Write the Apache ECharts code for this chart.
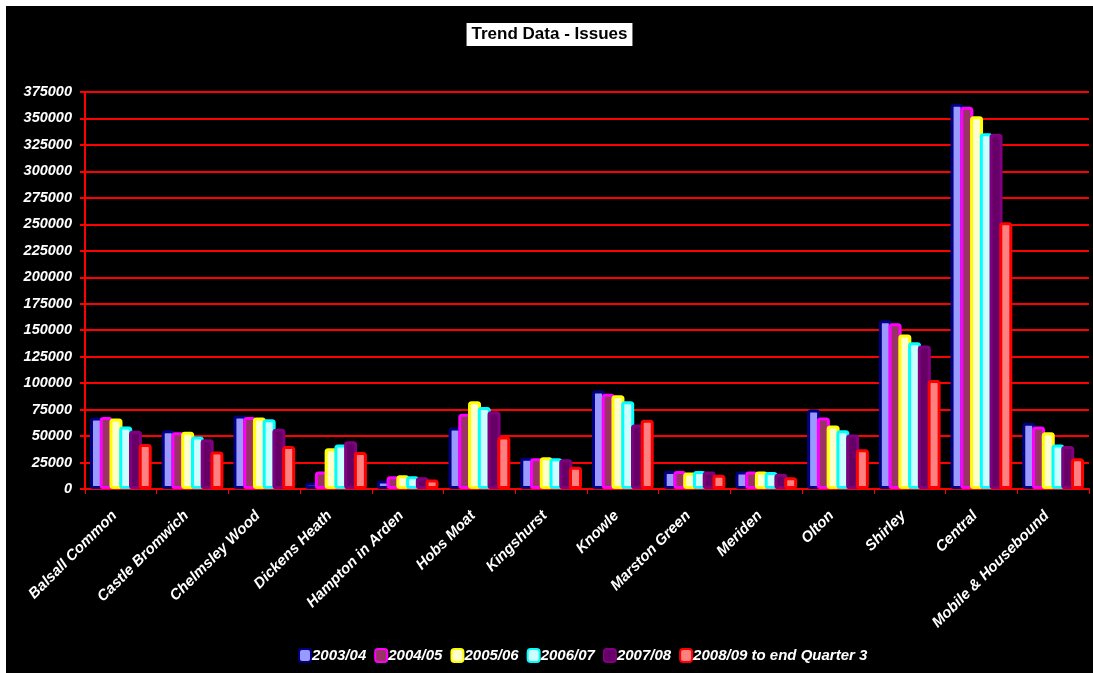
<!DOCTYPE html>
<html>
<head>
<meta charset="utf-8">
<script src="https://cdn.jsdelivr.net/npm/echarts@6/dist/echarts.min.js"></script>
<style>
html, body { margin: 0; padding: 0; background: #fff; }
#chart {
  position: absolute;
  left: 6px;
  top: 6px;
  width: 1087px;
  height: 667px;
  background: #000;
}
</style>
</head>
<body>
<div id="chart"></div>
<script>
const categories = ['Balsall Common', 'Castle Bromwich', 'Chelmsley Wood', 'Dickens Heath', 'Hampton in Arden',
  'Hobs Moat', 'Kingshurst', 'Knowle', 'Marston Green', 'Meriden', 'Olton', 'Shirley', 'Central', 'Mobile & Housebound']

const yearNames = ['2003/04', '2004/05', '2005/06', '2006/07', '2007/08', '2008/09 to end Quarter 3']

const y2003 = [67500, 55500, 69500, 6000, 8000, 58000, 29500, 93000, 17000, 16500, 75000, 159500, 364000, 62500]
const y2004 = [68000, 53500, 68000, 16500, 12000, 71000, 29000, 90000, 17000, 16500, 67500, 156500, 361000, 59000]
const y2005 = [66500, 54000, 67500, 38500, 13000, 83000, 30000, 88500, 15500, 16500, 60000, 146000, 352000, 53500]
const y2006 = [59000, 49500, 66000, 42000, 12000, 77500, 29000, 83000, 17000, 16000, 55500, 138500, 336000, 42000]
const y2007 = [55000, 47000, 57000, 45000, 11000, 73500, 28000, 61000, 16500, 14500, 51500, 135500, 335500, 40500]
const y2008 = [42500, 35500, 40500, 35000, 9000, 49500, 21000, 65500, 13500, 11000, 37500, 103000, 252000, 29000]

const yTicks = [0, 25000, 50000, 75000, 100000, 125000, 150000, 175000, 200000, 225000, 250000, 275000, 300000, 325000, 350000, 375000]

// outline colour and inner fill for each year
const borderColors = ['#000080', '#ff00ff', '#ffff00', '#00ffff', '#800080', '#ff0000']
const fillColors = ['#9999ff', '#993366', '#ffffcc', '#ccffff', '#660066', '#ff8080']

const allSeries = [y2003, y2004, y2005, y2006, y2007, y2008]

const chart = echarts.init(document.getElementById('chart'))

const series = allSeries.map(function (vals, i) {
  return {
    name: yearNames[i],
    type: 'bar',
    data: vals,
    barWidth: 13,
    barGap: '-25%',
    itemStyle: {
      color: fillColors[i],
      borderColor: borderColors[i],
      borderWidth: 3,
      borderRadius: 2
    },
    emphasis: { disabled: true }
  }
})

const options = {
  backgroundColor: '#000',
  animation: false,
  title: {
    text: 'Trend Data - Issues',
    left: 'center',
    top: 17,
    padding: [3, 5, 3, 5],
    backgroundColor: '#fff',
    textStyle: {
      color: '#000',
      fontFamily: 'Arial',
      fontWeight: 'bold',
      fontSize: 17
    }
  },
  legend: {
    data: yearNames,
    left: 287,
    bottom: 5,
    itemWidth: 12,
    itemHeight: 13,
    itemGap: 8,
    textStyle: {
      color: '#fff',
      fontFamily: 'Arial',
      fontWeight: 'bold',
      fontStyle: 'italic',
      fontSize: 15,
      padding: [0, 0, 0, -4]
    }
  },
  grid: {
    left: 79,
    right: 4,
    top: 86,
    bottom: 184
  },
  xAxis: {
    type: 'category',
    data: categories,
    axisLine: { lineStyle: { color: '#ff0000', width: 2 } },
    axisTick: { show: true, length: 5, lineStyle: { color: '#ff0000' } },
    axisLabel: {
      interval: 0,
      rotate: 45,
      margin: 18,
      padding: [0, 9, 0, 0],
      color: '#fff',
      fontFamily: 'Arial',
      fontWeight: 'bold',
      fontStyle: 'italic',
      fontSize: 15
    }
  },
  yAxis: {
    type: 'value',
    min: yTicks[0],
    max: yTicks[yTicks.length - 1],
    interval: yTicks[1] - yTicks[0],
    axisLine: { show: true, lineStyle: { color: '#ff0000', width: 2 } },
    axisTick: { show: true, length: 5, lineStyle: { color: '#ff0000', width: 2 } },
    splitLine: { lineStyle: { color: '#ff0000', width: 2 } },
    axisLabel: {
      margin: 13,
      color: '#fff',
      fontFamily: 'Arial',
      fontWeight: 'bold',
      fontStyle: 'italic',
      fontSize: 14.5,
      formatter: function (v) { return String(v) }
    }
  },
  series: series
}

chart.setOption(options)
</script>
</body>
</html>
